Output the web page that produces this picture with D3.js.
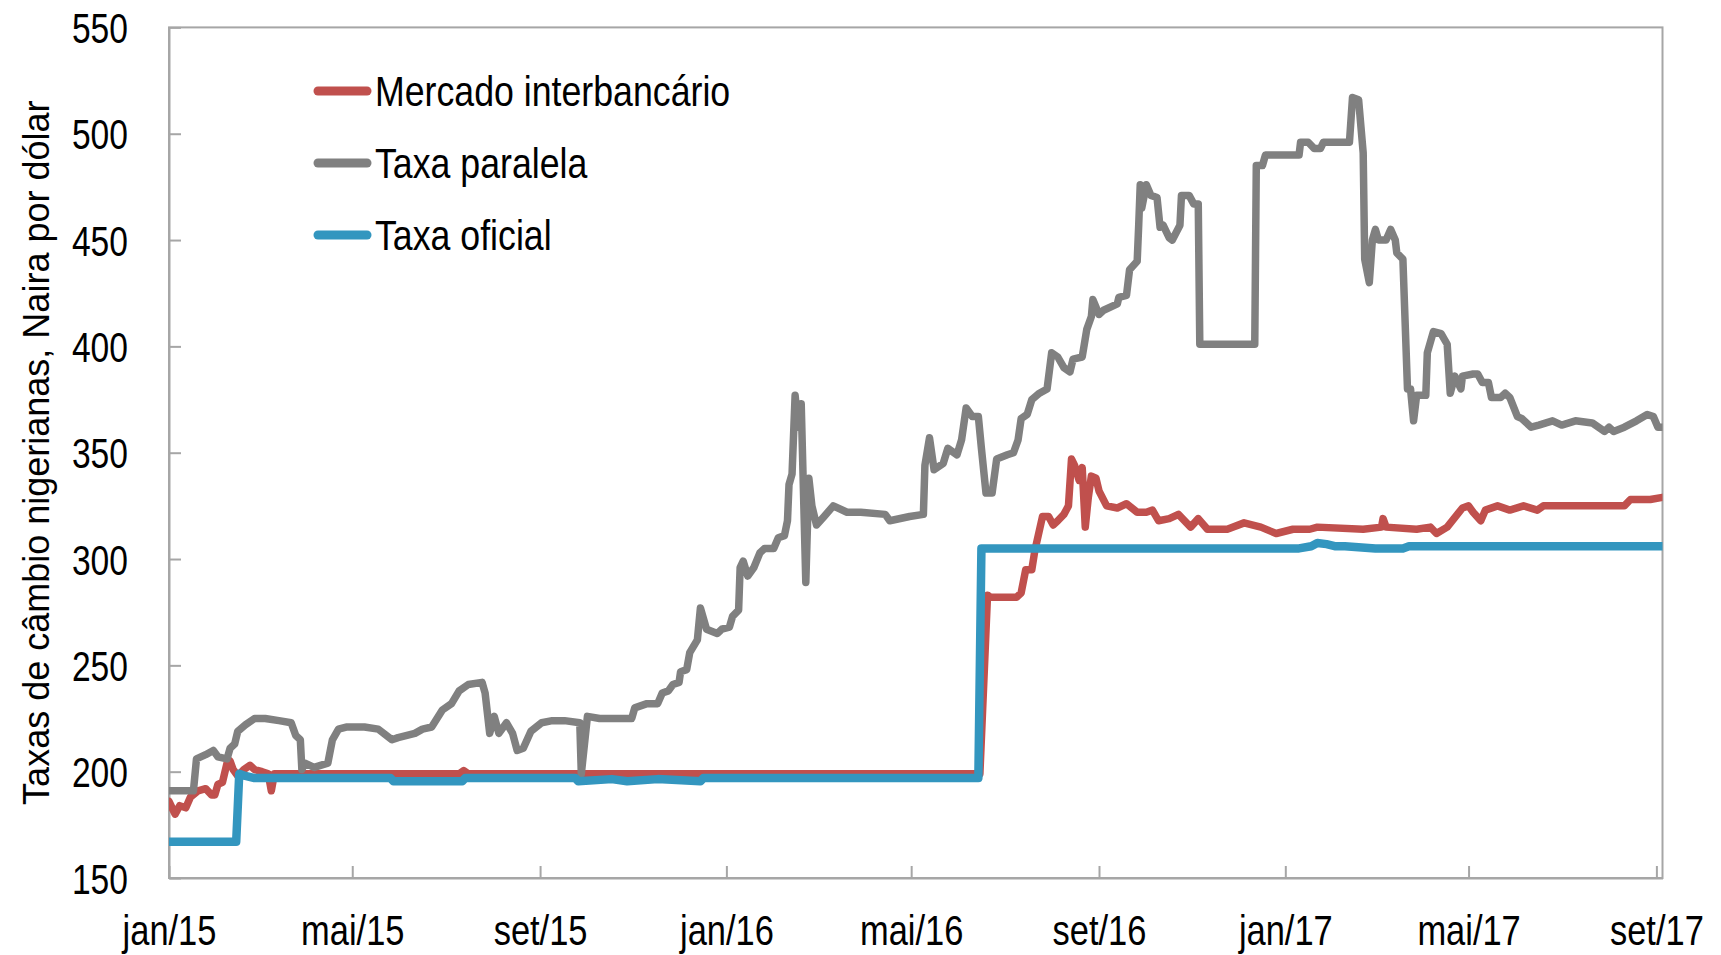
<!DOCTYPE html>
<html>
<head>
<meta charset="utf-8">
<script src="https://cdn.jsdelivr.net/npm/d3@7"></script>
<style>
  html, body { margin: 0; padding: 0; background: #fff; }
  svg { display: block; font-family: "Liberation Sans Narrow", "Liberation Sans", Arial, sans-serif; }
</style>
</head>
<body>
<div id="chart"></div>
<script>
// Taxa paralela (gray)
const paraleloDates = ["2015-01-01","2015-01-17","2015-01-19","2015-01-25","2015-01-30","2015-02-02","2015-02-08","2015-02-10","2015-02-13","2015-02-15","2015-02-20","2015-02-26","2015-03-05","2015-03-14","2015-03-22","2015-03-25","2015-03-28","2015-03-29","2015-03-31","2015-04-06","2015-04-15","2015-04-18","2015-04-22","2015-04-27","2015-05-09","2015-05-18","2015-05-27","2015-05-31","2015-06-11","2015-06-16","2015-06-22","2015-06-29","2015-07-05","2015-07-10","2015-07-16","2015-07-25","2015-07-27","2015-07-30","2015-08-02","2015-08-05","2015-08-10","2015-08-14","2015-08-17","2015-08-21","2015-08-26","2015-09-02","2015-09-09","2015-09-17","2015-09-27","2015-09-28","2015-10-02","2015-10-10","2015-10-31","2015-11-02","2015-11-10","2015-11-17","2015-11-20","2015-11-24","2015-11-27","2015-12-01","2015-12-02","2015-12-06","2015-12-08","2015-12-13","2015-12-15","2015-12-19","2015-12-26","2015-12-29","2016-01-03","2016-01-05","2016-01-09","2016-01-10","2016-01-12","2016-01-15","2016-01-19","2016-01-23","2016-01-26","2016-02-01","2016-02-04","2016-02-08","2016-02-10","2016-02-11","2016-02-13","2016-02-15","2016-02-17","2016-02-19","2016-02-22","2016-02-24","2016-02-26","2016-02-29","2016-03-05","2016-03-11","2016-03-20","2016-03-29","2016-04-14","2016-04-17","2016-04-30","2016-05-09","2016-05-10","2016-05-13","2016-05-16","2016-05-22","2016-05-25","2016-05-31","2016-06-03","2016-06-06","2016-06-10","2016-06-14","2016-06-16","2016-06-19","2016-06-23","2016-06-26","2016-07-03","2016-07-07","2016-07-10","2016-07-12","2016-07-16","2016-07-19","2016-07-24","2016-07-29","2016-08-01","2016-08-05","2016-08-09","2016-08-13","2016-08-15","2016-08-21","2016-08-24","2016-08-27","2016-08-28","2016-09-01","2016-09-04","2016-09-13","2016-09-14","2016-09-19","2016-09-21","2016-09-26","2016-09-27","2016-09-28","2016-09-29","2016-10-02","2016-10-05","2016-10-09","2016-10-11","2016-10-13","2016-10-17","2016-10-19","2016-10-24","2016-10-25","2016-10-30","2016-11-02","2016-11-05","2016-11-06","2016-12-12","2016-12-13","2016-12-17","2016-12-19","2017-01-10","2017-01-11","2017-01-16","2017-01-20","2017-01-24","2017-01-26","2017-02-12","2017-02-14","2017-02-18","2017-02-21","2017-02-22","2017-02-25","2017-02-27","2017-03-01","2017-03-03","2017-03-08","2017-03-11","2017-03-14","2017-03-15","2017-03-19","2017-03-22","2017-03-24","2017-03-26","2017-03-28","2017-04-03","2017-04-04","2017-04-08","2017-04-13","2017-04-17","2017-04-19","2017-04-22","2017-04-26","2017-04-27","2017-05-04","2017-05-07","2017-05-10","2017-05-14","2017-05-16","2017-05-22","2017-05-25","2017-05-28","2017-06-02","2017-06-05","2017-06-11","2017-06-16","2017-06-25","2017-07-01","2017-07-10","2017-07-21","2017-07-29","2017-08-01","2017-08-04","2017-08-11","2017-08-19","2017-08-26","2017-08-30","2017-09-02","2017-09-05"];
const paraleloValues = [191,191,206,208,210,207,206,211,213,219,222,225,225,224,223,217,215,201,204,202,204,215,220,221,221,220,215,216,218,220,221,229,232,238,241,242,237,218,226,218,223,218,210,211,219,223,224,224,223,199,226,225,225,230,232,232,237,238,241,242,247,248,256,262,277,267,265,267,268,273,276,296,299,292,296,303,305,305,310,311,318,335,340,377,362,373,289,338,325,316,320,325,322,322,321,318,320,321,344,357,342,345,352,349,356,371,367,367,352,331,331,347,349,350,356,366,368,375,378,380,397,395,390,388,394,395,408,414,422,415,417,420,423,424,436,440,457,476,465,476,471,470,456,457,451,450,457,471,471,467,467,401,401,485,485,490,490,496,496,493,493,496,496,517,516,491,441,430,450,455,450,450,455,450,444,441,380,380,365,377,377,397,407,406,401,378,386,380,386,387,387,383,383,376,376,378,376,367,366,362,363,365,363,365,364,360,362,360,362,365,368,367,362,362];

// Mercado interbancário (red)
const interbancDates = ["2015-01-01","2015-01-05","2015-01-08","2015-01-12","2015-01-15","2015-01-20","2015-01-25","2015-01-29","2015-01-31","2015-02-02","2015-02-05","2015-02-08","2015-02-10","2015-02-12","2015-02-15","2015-02-19","2015-02-23","2015-02-26","2015-03-03","2015-03-07","2015-03-09","2015-03-11","2015-07-10","2015-07-13","2015-07-16","2016-06-15","2016-06-20","2016-06-22","2016-07-09","2016-07-12","2016-07-15","2016-07-19","2016-07-21","2016-07-26","2016-07-30","2016-08-02","2016-08-05","2016-08-09","2016-08-12","2016-08-14","2016-08-16","2016-08-19","2016-08-21","2016-08-23","2016-08-25","2016-08-27","2016-08-30","2016-09-01","2016-09-06","2016-09-13","2016-09-19","2016-09-26","2016-10-02","2016-10-06","2016-10-10","2016-10-17","2016-10-23","2016-10-31","2016-11-05","2016-11-11","2016-11-24","2016-12-05","2016-12-16","2016-12-26","2017-01-06","2017-01-17","2017-01-22","2017-02-21","2017-03-05","2017-03-06","2017-03-08","2017-03-28","2017-04-06","2017-04-10","2017-04-17","2017-04-27","2017-05-01","2017-05-04","2017-05-09","2017-05-12","2017-05-20","2017-05-28","2017-06-06","2017-06-15","2017-06-19","2017-08-11","2017-08-15","2017-08-28","2017-09-05"];
const interbancValues = [186,180,184,183,188,191,192,189,189,194,195,204,205,201,198,201,203,201,200,199,191,199,199,200.5,199,199,283,282,282,284,295,295,304,320,320,316,318,321,325,347,344,337,343,315,329,339,338,332,325,324,326,322,322,323,318,319,321,315,319,314,314,317,315,312,314,314,315,314,315,319,315,314,315,312,315,324,325,322,318,323,325,323,325,323,325,325,328,328,329];

// Taxa oficial (blue)
const oficialDates = ["2015-01-01","2015-02-14","2015-02-16","2015-02-20","2015-02-26","2015-05-26","2015-05-28","2015-07-12","2015-07-14","2015-09-24","2015-09-26","2015-10-18","2015-10-28","2015-11-17","2015-12-15","2015-12-17","2016-06-14","2016-06-16","2017-01-10","2017-01-18","2017-01-22","2017-01-28","2017-02-03","2017-02-09","2017-03-01","2017-03-19","2017-03-23","2017-09-05"];
const oficialValues = [167,167,199,198,197,197,195.5,195.5,197,197,195.5,196.5,195.5,196.5,195.5,197,197,305,305,306,307.5,307,306,306,305,305,306,306];

const seriesNames = ["Mercado interbancário", "Taxa paralela", "Taxa oficial"];
const seriesColors = ["#c0504d", "#808080", "#3396bf"];

const xTickDates = ["2015-01-01","2015-05-01","2015-09-01","2016-01-01","2016-05-01","2016-09-01","2017-01-01","2017-05-01","2017-09-01"];
const xTickLabels = ["jan/15","mai/15","set/15","jan/16","mai/16","set/16","jan/17","mai/17","set/17"];
const yTicks = [150, 200, 250, 300, 350, 400, 450, 500, 550];
const yTitle = "Taxas de câmbio nigerianas, Naira por dólar";

const width = 1721, height = 955;
const margin = { left: 169, right: 58.5, top: 27.4, bottom: 77 };
const parse = d3.timeParse("%Y-%m-%d");

// squeeze text horizontally to mimic a narrow face
function condense(sel, factor) {
  sel.each(function () {
    const w = this.getComputedTextLength();
    d3.select(this)
      .attr("textLength", w * factor)
      .attr("lengthAdjust", "spacingAndGlyphs");
  });
}

const svg = d3.select("#chart").append("svg")
  .attr("width", width)
  .attr("height", height);

const x = d3.scaleTime()
  .domain([parse("2015-01-01"), parse("2017-09-05")])
  .range([margin.left, width - margin.right]);

const y = d3.scaleLinear()
  .domain([150, 550])
  .range([height - margin.bottom, margin.top]);

const axisColor = "#a6a6a6";

// plot frame
svg.append("rect")
  .attr("x", x.range()[0])
  .attr("y", y.range()[1])
  .attr("width", x.range()[1] - x.range()[0])
  .attr("height", y.range()[0] - y.range()[1])
  .attr("fill", "none")
  .attr("stroke", axisColor)
  .attr("stroke-width", 2);

// x axis
const xAxis = svg.append("g")
  .attr("transform", `translate(0,${y(150)})`)
  .call(d3.axisBottom(x)
    .tickValues(xTickDates.map(parse))
    .tickFormat((d, i) => xTickLabels[i])
    .tickSize(-12)
    .tickSizeOuter(0));
xAxis.select(".domain").attr("stroke", axisColor).attr("stroke-width", 2);
xAxis.selectAll(".tick line").attr("stroke", axisColor).attr("stroke-width", 2);
xAxis.selectAll(".tick text")
  .attr("y", 67)
  .attr("dy", null)
  .attr("fill", "#000")
  .style("font-size", "42px")
  .call(condense, 0.82);

// y axis
const yAxis = svg.append("g")
  .attr("transform", `translate(${x.range()[0]},0)`)
  .call(d3.axisLeft(y)
    .tickValues(yTicks)
    .tickSize(-12)
    .tickSizeOuter(0)
    .tickPadding(41));
yAxis.select(".domain").attr("stroke", axisColor).attr("stroke-width", 2);
yAxis.selectAll(".tick line").attr("stroke", axisColor).attr("stroke-width", 2);
yAxis.selectAll(".tick text")
  .attr("fill", "#000")
  .attr("dy", "0.36em")
  .style("font-size", "42px")
  .call(condense, 0.8);

// y title
svg.append("text")
  .attr("transform", `translate(49,${(y(150) + y(550)) / 2}) rotate(-90)`)
  .attr("text-anchor", "middle")
  .style("font-family", "'Liberation Sans', Arial, sans-serif")
  .style("font-size", "36px")
  .attr("fill", "#000")
  .text(yTitle);

// lines
svg.append("clipPath").attr("id", "plot-clip")
  .append("rect")
  .attr("x", x.range()[0])
  .attr("y", y.range()[1])
  .attr("width", x.range()[1] - x.range()[0])
  .attr("height", y.range()[0] - y.range()[1]);

const line = d3.line()
  .x(d => x(d.date))
  .y(d => y(d.value));

const series = [
  { dates: interbancDates, values: interbancValues, width: 7.5 },
  { dates: paraleloDates, values: paraleloValues, width: 7.5 },
  { dates: oficialDates, values: oficialValues, width: 8.5 }
];

series.forEach((s, i) => {
  const data = s.dates.map((d, j) => ({ date: parse(d), value: s.values[j] }));
  svg.append("path")
    .datum(data)
    .attr("clip-path", "url(#plot-clip)")
    .attr("fill", "none")
    .attr("stroke", seriesColors[i])
    .attr("stroke-width", s.width)
    .attr("stroke-linejoin", "round")
    .attr("stroke-linecap", "round")
    .attr("d", line);
});

// legend
const legend = svg.append("g");
seriesNames.forEach((name, i) => {
  const ly = 91 + i * 72;
  legend.append("line")
    .attr("x1", 318).attr("x2", 367)
    .attr("y1", ly).attr("y2", ly)
    .attr("stroke", seriesColors[i])
    .attr("stroke-width", 9)
    .attr("stroke-linecap", "round");
  legend.append("text")
    .attr("x", 375)
    .attr("y", ly)
    .attr("dy", "0.35em")
    .style("font-size", "42px")
    .attr("fill", "#000")
    .text(name)
    .call(condense, 0.85);
});
</script>
</body>
</html>
